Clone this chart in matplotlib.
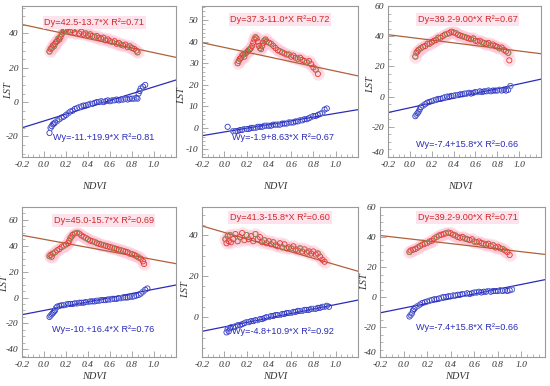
import matplotlib
matplotlib.use("Agg")
import matplotlib.pyplot as plt
import numpy as np
from matplotlib.ticker import MultipleLocator, FixedLocator

plt.rcParams['axes.unicode_minus'] = False

# ---------------- data ----------------
# Panel 1 (top-left)
p1_day_x = [0.05,0.06,0.07,0.08,0.09,0.10,0.11,0.12,0.13,0.14,0.15,0.16,0.17,0.18,0.19,0.20,0.22,0.24,0.26,0.28,0.30,0.32,0.34,0.36,0.38,0.40,0.42,0.44,0.46,0.48,0.50,0.52,0.54,0.56,0.58,0.60,0.62,0.64,0.66,0.68,0.70,0.72,0.74,0.76,0.78,0.80,0.82,0.84,0.85]
p1_day_y = [29.5,31,31.5,33,32.5,34,35,35.5,37,36.5,38,39.5,40.5,41.5,42.5,42,41.5,41,42,40.5,42.5,40,41,39.5,40,39,39.5,38.5,38,38.5,37.5,37,37.5,36,36.5,35.5,35,35.5,34,34.5,33.5,33,33.5,32,32.5,31.5,31,30,29]
p1_ngt_x = [0.05,0.06,0.07,0.08,0.09,0.10,0.12,0.14,0.16,0.18,0.20,0.22,0.24,0.26,0.28,0.30,0.32,0.34,0.36,0.38,0.40,0.42,0.44,0.46,0.48,0.50,0.52,0.54,0.56,0.58,0.60,0.62,0.64,0.66,0.68,0.70,0.72,0.74,0.76,0.78,0.80,0.82,0.84,0.85,0.86,0.87,0.88,0.90,0.92]
p1_ngt_y = [-18,-15,-14,-13,-12.5,-12,-11,-10,-9,-8.5,-7.5,-6.5,-5.5,-5,-4,-3.5,-3,-2.5,-2,-2,-1.5,-1,-1,-0.5,0,0,0.5,0,0.5,1,0.5,1,1,1.5,1,1.5,1.5,2,1.5,2,2,2,2.5,2,5,6.5,8,9,10]

# Panel 2 (top-middle)
p2_day_x = [0.12,0.13,0.14,0.15,0.16,0.17,0.18,0.19,0.20,0.21,0.22,0.23,0.24,0.25,0.26,0.27,0.28,0.29,0.30,0.31,0.32,0.33,0.34,0.35,0.36,0.37,0.38,0.40,0.42,0.44,0.46,0.48,0.50,0.52,0.54,0.56,0.58,0.60,0.62,0.64,0.66,0.68,0.70,0.72,0.74,0.76,0.78,0.80,0.82,0.84]
p2_day_y = [30,31,32,32.5,33.5,34,33,34.5,35,35.5,36,36.5,37,38,39.5,41,42,41.5,40,38,37,36.5,38,39.5,40.5,41,40,39.5,39,38,37,36,35.5,35,34.5,34,34,33,33.5,32.5,32,32.5,31.5,31,30.5,31,29.5,28,27,25]
p2_ngt_x = [0.03,0.08,0.10,0.12,0.14,0.16,0.18,0.20,0.22,0.24,0.26,0.28,0.30,0.32,0.34,0.36,0.38,0.40,0.42,0.44,0.46,0.48,0.50,0.52,0.54,0.56,0.58,0.60,0.62,0.64,0.66,0.68,0.70,0.72,0.74,0.76,0.78,0.80,0.82,0.84,0.86,0.88,0.90,0.92]
p2_ngt_y = [0.5,-1.5,-1.5,-1.5,-1,-1,-0.5,-0.5,-0.5,0,0,0,0.5,0.5,0.5,1,1,1,1,1.5,1.5,1.5,1.5,2,2,2,2.5,2.5,2.5,3,3,3.5,3.5,4,4,4.5,5,5.5,5.5,6,6.5,7,8.5,9]

# Panel 3 (top-right)
p3_day_x = [0.05,0.06,0.07,0.08,0.10,0.12,0.14,0.16,0.18,0.20,0.22,0.24,0.26,0.28,0.30,0.32,0.34,0.36,0.38,0.40,0.42,0.44,0.46,0.48,0.50,0.52,0.54,0.56,0.58,0.60,0.62,0.64,0.66,0.68,0.70,0.72,0.74,0.76,0.78,0.80,0.82,0.84,0.86,0.88,0.90,0.91]
p3_day_y = [26.5,29,30,31,32,33,33.5,35,35,36,37,37.5,39,39,40,41,41.5,42,43,42.5,42,41,40.5,40,39.5,39,38.5,38,38.5,37,36.5,37,36,35.5,35,35.5,34,34.5,33.5,33,32,32.5,31,30,29,24]
p3_ngt_x = [0.05,0.06,0.07,0.08,0.09,0.10,0.12,0.14,0.16,0.18,0.20,0.22,0.24,0.26,0.28,0.30,0.32,0.34,0.36,0.38,0.40,0.42,0.44,0.46,0.48,0.50,0.52,0.54,0.56,0.58,0.60,0.62,0.64,0.66,0.68,0.70,0.72,0.74,0.76,0.78,0.80,0.82,0.84,0.86,0.88,0.90,0.92]
p3_ngt_y = [-13,-12,-11,-10,-8.5,-7,-6,-5,-4,-3.5,-3,-2.5,-2,-1.5,-1.5,-1,-0.5,0,0,0.5,0.5,1,1,1.5,1.5,2,2,2.5,2,2.5,3,3,3.5,3,3.5,3.5,4,3.5,4,4,4,4.5,4,4.5,4,4.5,7]

# Panel 4 (bottom-left)
p4_day_x = [0.05,0.06,0.07,0.08,0.10,0.12,0.14,0.16,0.18,0.20,0.22,0.23,0.24,0.25,0.26,0.28,0.30,0.32,0.34,0.36,0.38,0.40,0.42,0.44,0.46,0.48,0.50,0.52,0.54,0.56,0.58,0.60,0.62,0.64,0.66,0.68,0.70,0.72,0.74,0.76,0.78,0.80,0.82,0.84,0.86,0.88,0.90,0.91]
p4_day_y = [32,33,31.5,34,35,36.5,37.5,39,40,41,42,44,46,47,48.5,49.5,50,49.5,48,47,46,45,44,43.5,43,42,41.5,41,40.5,40,39.5,39,38.5,38,37.5,37,36.5,36,35.5,35,34,33.5,33,32,31,30,28,26]
p4_ngt_x = [0.05,0.06,0.07,0.08,0.09,0.10,0.11,0.12,0.14,0.16,0.18,0.20,0.22,0.24,0.26,0.28,0.30,0.32,0.34,0.36,0.38,0.40,0.42,0.44,0.46,0.48,0.50,0.52,0.54,0.56,0.58,0.60,0.62,0.64,0.66,0.68,0.70,0.72,0.74,0.76,0.78,0.80,0.82,0.84,0.86,0.88,0.90,0.92,0.94]
p4_ngt_y = [-15,-14,-13,-12,-11,-10,-8,-7,-6.5,-6,-6,-5.5,-5,-5,-5,-4.5,-4.5,-4,-4,-4,-3.5,-3.5,-3,-3,-3,-2.5,-2.5,-2,-2,-2,-1.5,-1.5,-1,-1,-1,-0.5,-0.5,0,0,0,0.5,0.5,1,1.5,2,3,4.5,6,7]

# Panel 5 (bottom-middle)
p5_day_x = [0.01,0.02,0.03,0.04,0.05,0.06,0.08,0.10,0.12,0.14,0.16,0.18,0.20,0.22,0.24,0.26,0.28,0.30,0.32,0.34,0.36,0.38,0.40,0.42,0.44,0.46,0.48,0.50,0.52,0.54,0.56,0.58,0.60,0.62,0.64,0.66,0.68,0.70,0.72,0.74,0.76,0.78,0.80,0.82,0.84,0.86,0.88,0.90]
p5_day_y = [38,36,39.5,37,40,36.5,38,40.5,37,39,41,37.5,40,38,39.5,37,40.5,38,39,36.5,37.5,36,37,35.5,36.5,35,34.5,36,34,35.5,33.5,34,33.5,34.5,33,32.5,33.5,32,33,31.5,32,31,32,30.5,31,29.5,28,27]
p5_ngt_x = [0.02,0.03,0.04,0.05,0.06,0.08,0.10,0.12,0.14,0.16,0.18,0.20,0.22,0.24,0.26,0.28,0.30,0.32,0.34,0.36,0.38,0.40,0.42,0.44,0.46,0.48,0.50,0.52,0.54,0.56,0.58,0.60,0.62,0.64,0.66,0.68,0.70,0.72,0.74,0.76,0.78,0.80,0.82,0.84,0.86,0.88,0.90,0.92,0.94]
p5_ngt_y = [-7.5,-6,-7,-5.5,-5,-5,-4.5,-4,-4,-3.5,-3,-2.5,-2.5,-2,-2,-1.5,-1.5,-1,-1,-0.5,0,0,0.5,0.5,1,1,1,1.5,1.5,2,2,2,2.5,2.5,3,3,3,3.5,3.5,3.5,4,4,4,4.5,4.5,5,5,5.5,5]

# Panel 6 (bottom-right)
p6_day_x = [0.05,0.06,0.08,0.10,0.12,0.14,0.16,0.18,0.20,0.22,0.24,0.26,0.28,0.30,0.32,0.34,0.36,0.38,0.40,0.42,0.44,0.46,0.48,0.50,0.52,0.54,0.56,0.58,0.60,0.62,0.64,0.66,0.68,0.70,0.72,0.74,0.76,0.78,0.80,0.82,0.84,0.86,0.88,0.90]
p6_day_y = [30,31,31.5,32,33,34,35,35.5,36,37,37.5,39,40,41,41.5,42,42.5,43,42.5,41.5,41,40,39.5,40,39,38.5,38,38.5,37,36.5,37,36,35.5,35,35.5,34,34.5,33,33.5,32.5,32,31,30,28]
p6_ngt_x = [0.05,0.06,0.07,0.08,0.09,0.10,0.12,0.14,0.16,0.18,0.20,0.22,0.24,0.26,0.28,0.30,0.32,0.34,0.36,0.38,0.40,0.42,0.44,0.46,0.48,0.50,0.52,0.54,0.56,0.58,0.60,0.62,0.64,0.66,0.68,0.70,0.72,0.74,0.76,0.78,0.80,0.82,0.84,0.86,0.88,0.90,0.92]
p6_ngt_y = [-13,-12,-11,-9,-8,-7,-6,-5,-4,-3.5,-3,-2.5,-2,-1.5,-1.5,-1,-0.5,0,0,0.5,0.5,1,1,1.5,1.5,2,2,2.5,2,2.5,3,3,3.5,3,3.5,3.5,4,3.5,4,4,4,4.5,4,4.5,4,4.5,5]

# fit coefficients and equation labels
day_intercepts = [42.5, 37.3, 39.2, 45.0, 41.3, 39.2]
day_slopes = [-13.7, -11.0, -9.00, -15.7, -15.8, -9.00]
ngt_intercepts = [-11.0, -1.9, -7.4, -10.0, -4.8, -7.4]
ngt_slopes = [19.9, 8.63, 15.8, 16.4, 10.9, 15.8]
day_labels = ["Dy=42.5-13.7*X R\u00b2=0.71", "Dy=37.3-11.0*X R\u00b2=0.72", "Dy=39.2-9.00*X R\u00b2=0.67",
              "Dy=45.0-15.7*X R\u00b2=0.69", "Dy=41.3-15.8*X R\u00b2=0.60", "Dy=39.2-9.00*X R\u00b2=0.71"]
ngt_labels = ["Wy=-11.+19.9*X R\u00b2=0.81", "Wy=-1.9+8.63*X R\u00b2=0.67", "Wy=-7.4+15.8*X R\u00b2=0.66",
              "Wy=-10.+16.4*X R\u00b2=0.76", "Wy=-4.8+10.9*X R\u00b2=0.92", "Wy=-7.4+15.8*X R\u00b2=0.66"]
x_ticks = [-0.2, 0.0, 0.2, 0.4, 0.6, 0.8, 1.0]
y_ticks = [[-20, 0, 20, 40], [-10, 0, 10, 20, 30, 40, 50], [-40, -20, 0, 20, 40, 60],
           [-40, -20, 0, 20, 40, 60], [0, 20, 40], [-40, -20, 0, 20, 40, 60]]

# ---------------- layout / style ----------------
W, H = 550, 386
fig = plt.figure(figsize=(W / 100, H / 100), dpi=100)
fig.patch.set_facecolor('white')

# axes boxes in pixels: (left, top, right, bottom)
boxes = [(22, 6, 176, 157), (202, 6, 358, 157), (388, 6, 541, 157),
         (22, 207, 176, 357), (202, 207, 358, 357), (380, 207, 545, 357)]
ylims = [(-32, 56), (-13.5, 56.5), (-40, 60), (-46, 70), (-19.5, 53.7), (-40, 60)]
yminor = [5, 2, 5, 5, 5, 5]
day_txt_pos = [(0.47, 0.89), (0.50, 0.91), (0.52, 0.91), (0.53, 0.91), (0.50, 0.93), (0.53, 0.93)]
ngt_txt_pos = [(0.53, 0.13), (0.52, 0.13), (0.52, 0.08), (0.53, 0.18), (0.52, 0.17), (0.53, 0.20)]
ylab_pos = [(-0.06, 0.44), (-0.10, 0.407), (-0.085, 0.48), (-0.085, 0.49), (-0.075, 0.45), (-0.065, 0.50)]
xlab_y = [-0.165, -0.165, -0.165, -0.10, -0.10, -0.10]

days = [(p1_day_x, p1_day_y), (p2_day_x, p2_day_y), (p3_day_x, p3_day_y),
        (p4_day_x, p4_day_y), (p5_day_x, p5_day_y), (p6_day_x, p6_day_y)]
ngts = [(p1_ngt_x, p1_ngt_y), (p2_ngt_x, p2_ngt_y), (p3_ngt_x, p3_ngt_y),
        (p4_ngt_x, p4_ngt_y), (p5_ngt_x, p5_ngt_y), (p6_ngt_x, p6_ngt_y)]

serif = "Liberation Serif"
sans = "Liberation Sans"
frame_col = "#9a9a9a"
day_line_col = "#b0603a"
day_txt_col = "#cc2a2a"
ngt_col = "#2b2bb8"

for i in range(6):
    l, t, r, b = boxes[i]
    ax = fig.add_axes([l / W, 1 - b / H, (r - l) / W, (b - t) / H])
    ax.set_xlim(-0.2, 1.2)
    ax.set_ylim(*ylims[i])

    dx, dy = days[i]
    nx, ny = ngts[i]
    # pink halo behind day points
    ax.scatter(dx, dy, s=80, color="#ffc4d6", alpha=0.5, linewidths=0, zorder=1)
    ax.scatter(dx, dy, s=14, facecolors='none', edgecolors="#e0392f", linewidths=0.6, zorder=3)
    ax.scatter(dx[::4], dy[::4], s=14, facecolors='none', edgecolors="#7a9a60", linewidths=0.6, zorder=3)
    ax.scatter(nx, ny, s=14, facecolors='none', edgecolors="#3434c8", linewidths=0.6, zorder=3)
    ax.scatter(nx[1::5], ny[1::5], s=14, facecolors='none', edgecolors="#6a8ad0", linewidths=0.6, zorder=3)

    xl = np.array(ax.get_xlim())
    ax.plot(xl, day_intercepts[i] + day_slopes[i] * xl, color=day_line_col, lw=0.9, zorder=2)
    ax.plot(xl, ngt_intercepts[i] + ngt_slopes[i] * xl, color=ngt_col, lw=0.9, zorder=2)

    ax.text(day_txt_pos[i][0], day_txt_pos[i][1], day_labels[i], transform=ax.transAxes,
            ha='center', va='center', color=day_txt_col, fontsize=6.6, family=sans,
            bbox=dict(facecolor="#ffe3ec", edgecolor='none', pad=1.2))
    ax.text(ngt_txt_pos[i][0], ngt_txt_pos[i][1], ngt_labels[i], transform=ax.transAxes,
            ha='center', va='center', color=ngt_col, fontsize=6.6, family=sans)

    ax.xaxis.set_major_locator(FixedLocator(x_ticks))
    ax.xaxis.set_minor_locator(MultipleLocator(0.05))
    ax.yaxis.set_major_locator(FixedLocator(y_ticks[i]))
    ax.yaxis.set_minor_locator(MultipleLocator(yminor[i]))
    ax.set_xticklabels([f"{v:.1f}" for v in x_ticks])
    ax.set_yticklabels([str(v) for v in y_ticks[i]])
    ax.tick_params(which='both', direction='in', top=False, right=False, color=frame_col,
                   labelsize=6.8, labelcolor="#333333")
    ax.tick_params(axis='x', which='major', length=4, width=0.6, pad=3)
    ax.tick_params(axis='y', which='major', length=4, width=0.6, pad=2.5)
    ax.tick_params(which='minor', length=2, width=0.5)
    for lab in ax.get_xticklabels() + ax.get_yticklabels():
        lab.set_fontstyle('italic')
        lab.set_family(serif)
    if y_ticks[i][0] == ylims[i][0]:
        ax.get_yticklabels()[0].set_va('bottom')
    for sp in ax.spines.values():
        sp.set_color(frame_col)
        sp.set_linewidth(0.8)

    ax.set_xlabel("NDVI", fontsize=7.5, fontstyle='italic', family=serif, color="#333333")
    ax.set_ylabel("LST", fontsize=7.5, fontstyle='italic', family=serif, color="#333333")
    ax.xaxis.set_label_coords(0.47, xlab_y[i])
    ax.yaxis.set_label_coords(*ylab_pos[i])

fig.savefig("out.png", dpi=100)
